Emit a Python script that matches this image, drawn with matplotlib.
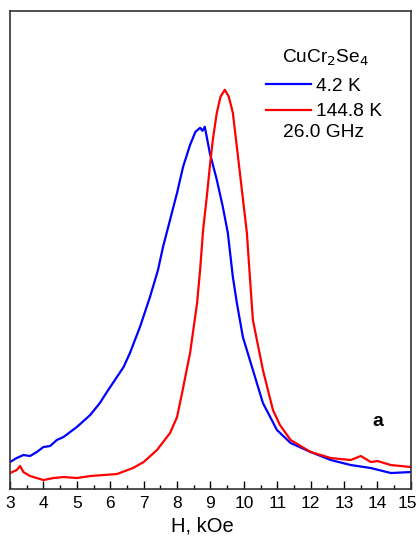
import numpy as np
import matplotlib
matplotlib.use("Agg")
import matplotlib.pyplot as plt
from matplotlib.ticker import MultipleLocator

plt.rcParams['font.family'] = ['Liberation Sans', 'DejaVu Sans']

# field, kOe and signal (arb. units) for 4.2 K
H_BLUE = [3.0, 3.2, 3.4, 3.6, 3.8, 4.0, 4.2, 4.4, 4.6, 4.8, 5.0, 5.2, 5.4, 5.69,
          5.9, 6.2, 6.4, 6.59, 6.89, 7.19, 7.43, 7.58, 7.79, 8.0, 8.18, 8.39,
          8.55, 8.69, 8.76, 8.83, 8.98, 9.19, 9.37, 9.52, 9.67, 9.79, 9.97,
          10.27, 10.57, 10.99, 11.4, 12.0, 12.6, 13.2, 13.8, 14.4, 15.0]
S_BLUE = [27, 31, 34, 33, 37, 42, 43, 49, 52, 57, 62, 68, 74, 86,
          97, 112, 122, 136, 162, 192, 219, 242, 269, 296, 322, 344,
          357, 361, 358, 362, 336, 309, 282, 256, 212, 186, 152,
          119, 86, 59, 46, 37, 29, 24, 21, 16, 17]

# 144.8 K
H_RED = [3.0, 3.2, 3.3, 3.4, 3.6, 3.8, 4.0, 4.3, 4.6, 5.0, 5.4, 5.8, 6.2, 6.68,
         7.0, 7.4, 7.79, 8.0, 8.15, 8.39, 8.6, 8.69, 8.78, 8.89, 8.98, 9.07,
         9.19, 9.3, 9.43, 9.55, 9.67, 9.79, 9.94, 10.09, 10.18, 10.27, 10.57,
         10.87, 11.08, 11.4, 12.0, 12.6, 13.2, 13.5, 13.8, 14.0, 14.4, 15.0]
S_RED = [16, 19, 23, 17, 13, 11, 9, 11, 12, 11, 13, 14, 15, 21,
         27, 39, 56, 72, 96, 136, 186, 219, 259, 292, 322, 349,
         376, 392, 399, 392, 376, 342, 299, 256, 212, 169, 119,
         79, 64, 49, 37, 31, 29, 33, 27, 28, 24, 22]

TICKS = list(range(3, 16))
TICK_LABELS = [str(t) for t in TICKS]

fig = plt.figure(figsize=(4.18, 5.38), dpi=100)
ax = fig.add_axes([0.024, 0.091, 0.959, 0.889])

l1, = ax.plot(H_BLUE, S_BLUE, color="#0000ff", lw=1.6, label="4.2 K")
l2, = ax.plot(H_RED, S_RED, color="#ff0000", lw=1.6, label="144.8 K")

ax.set_xlim(3, 15)
ax.set_ylim(0, 478)
# the last label sits against the figure edge, drawn separately a bit inward
ax.set_xticks(TICKS, TICK_LABELS[:-1] + [""])
ax.xaxis.set_minor_locator(MultipleLocator(0.5))
ax.tick_params(axis="x", which="major", direction="in", length=6, width=1,
               labelsize=12.5, pad=5)
ax.tick_params(axis="x", which="minor", direction="in", length=3, width=1)
ax.annotate(TICK_LABELS[-1], xy=(TICKS[-1], 0), xycoords=("data", "axes fraction"),
            xytext=(-2.5, -5), textcoords="offset points", ha="center", va="top",
            fontsize=12.5)
ax.set_yticks([])
for s in ax.spines.values():
    s.set_linewidth(1.2)
    s.set_color("#333333")
ax.set_xlabel("H, kOe", fontsize=14.5)
ax.xaxis.set_label_coords(0.481, -0.058)

fs = 13.8
ax.text(0.788, 0.902, "CuCr$_2$Se$_4$", transform=ax.transAxes, fontsize=fs,
        ha="center", va="center")
ax.legend(handles=[l1, l2], loc="upper left", bbox_to_anchor=(0.638, 0.860),
          frameon=False, fontsize=fs, handlelength=2.35, handletextpad=0.26,
          labelspacing=0.4, borderpad=0, borderaxespad=0)
ax.text(0.681, 0.745, "26.0 GHz", transform=ax.transAxes, fontsize=fs,
        ha="left", va="center")
ax.text(0.917, 0.142, "a", transform=ax.transAxes, fontsize=14,
        fontweight="bold", ha="center", va="center")

fig.savefig("out.png", dpi=100)
